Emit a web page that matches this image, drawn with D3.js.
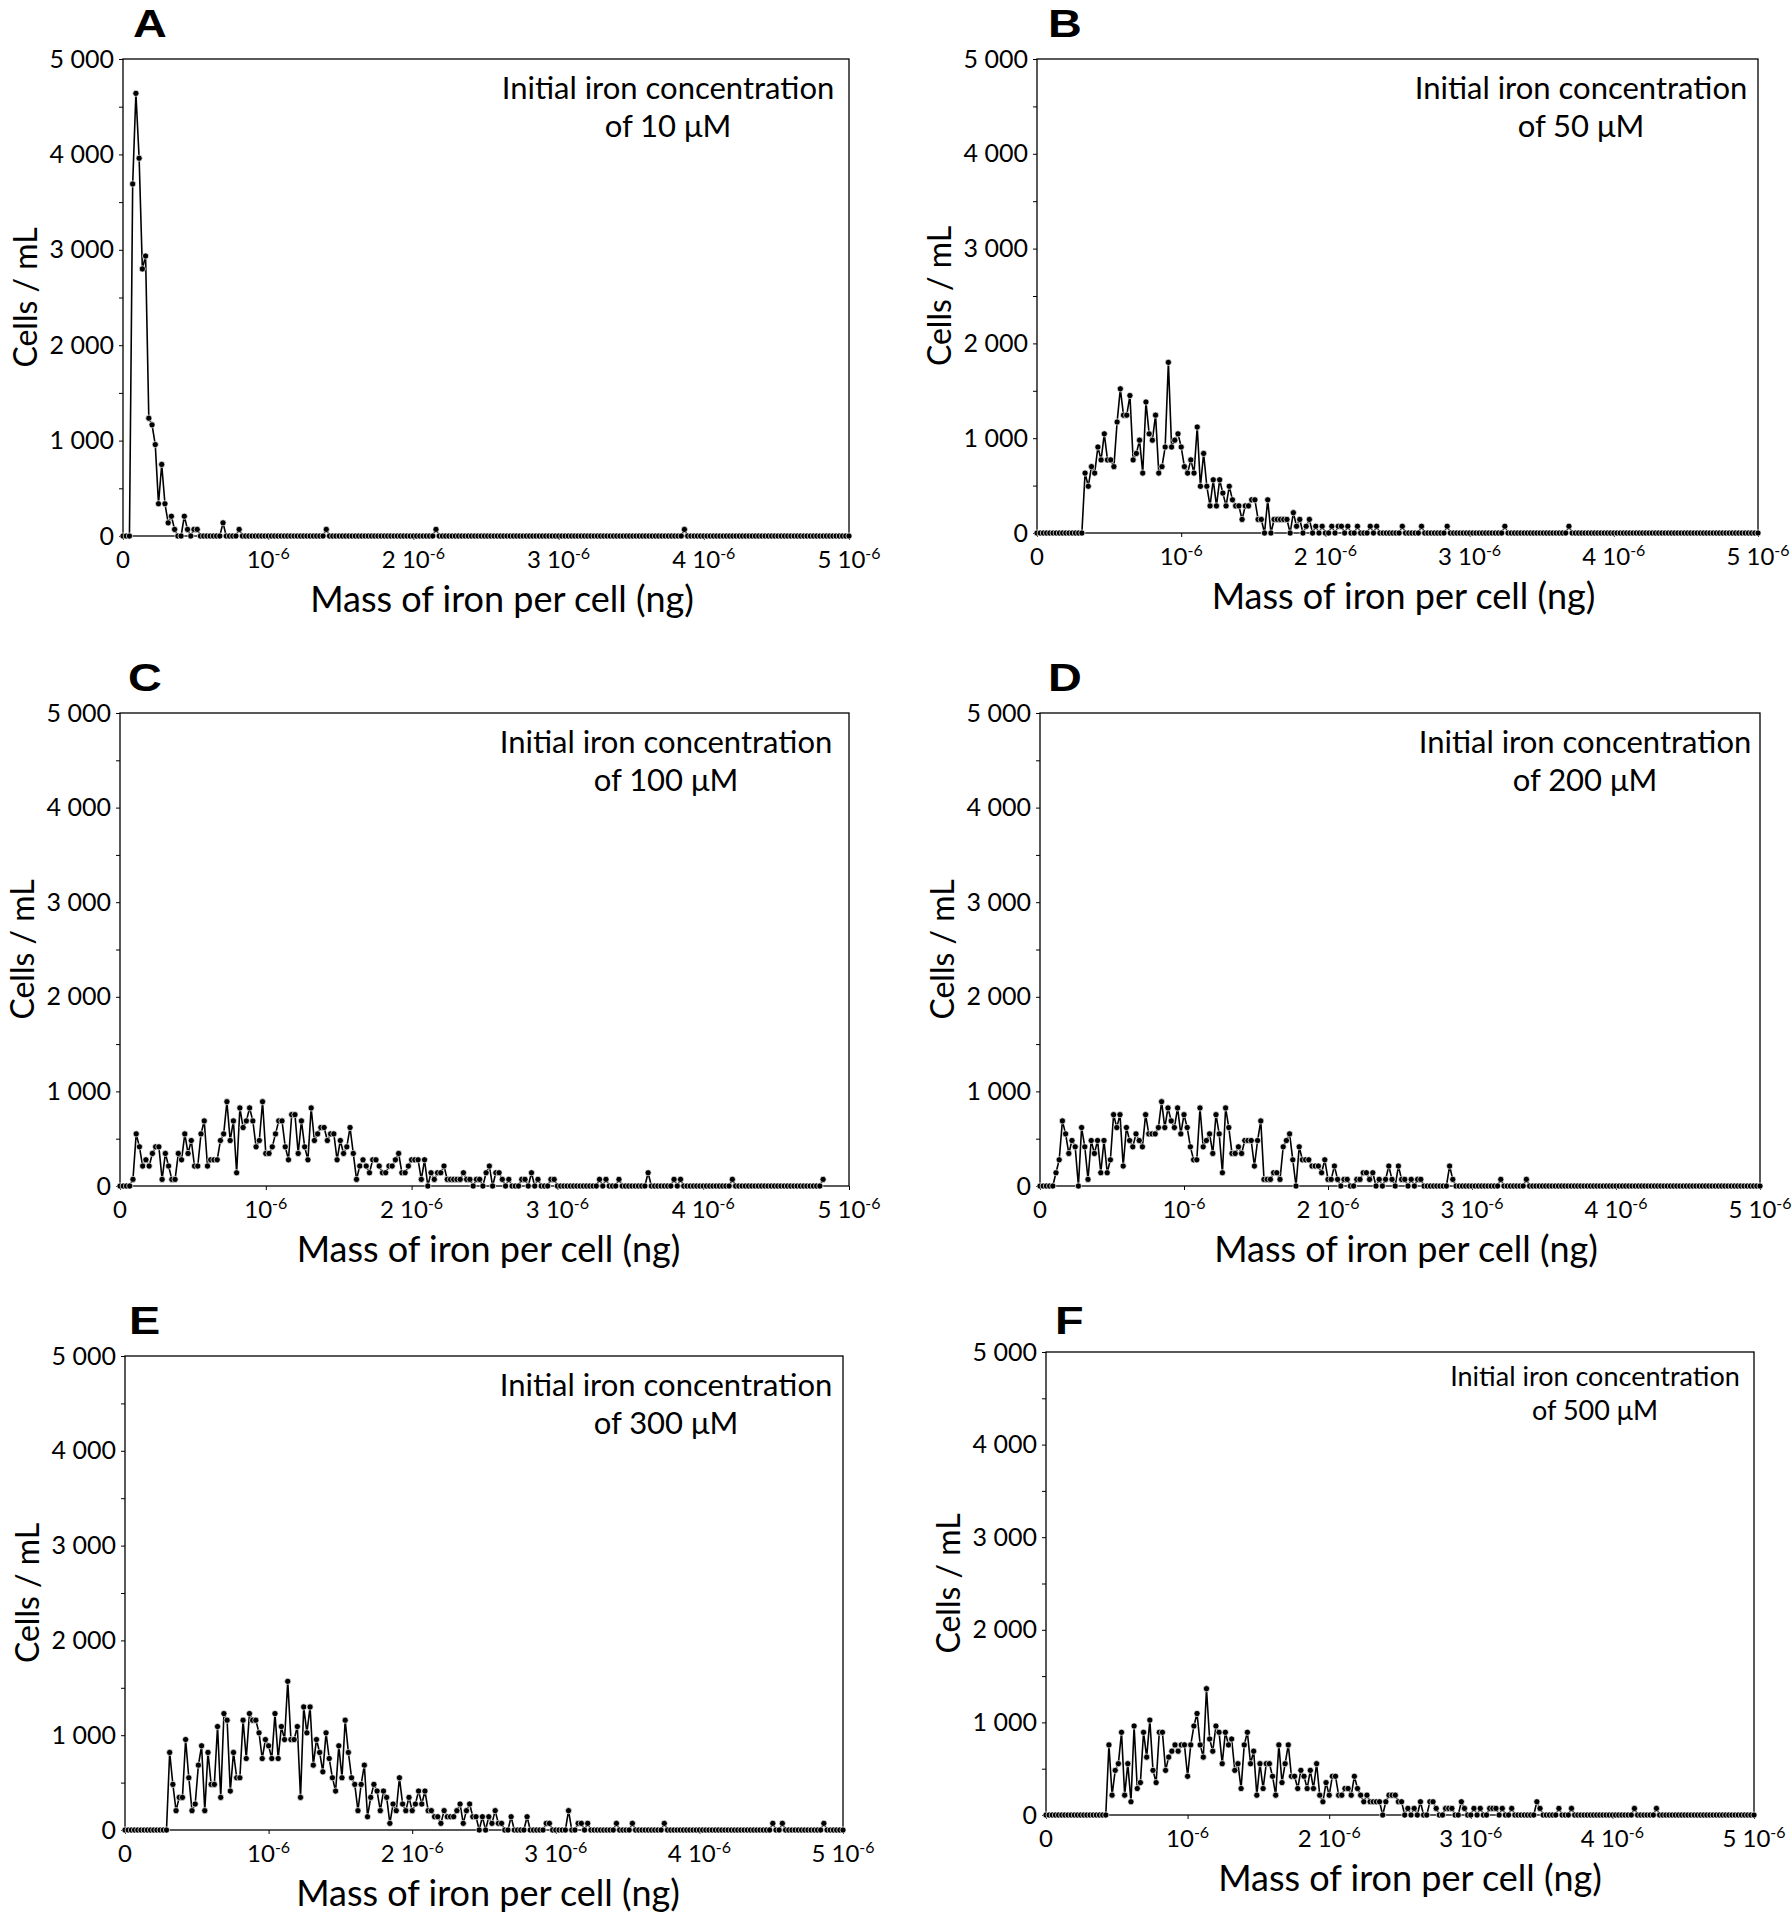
<!DOCTYPE html>
<html><head><meta charset="utf-8">
<script src="https://cdn.jsdelivr.net/npm/d3@7"></script>
<style>body{margin:0;background:#fff}</style>
</head><body>
<svg id="c" width="1792" height="1916" xmlns="http://www.w3.org/2000/svg"></svg>
<script>
// ---------- data ----------
const binWidth = 5e-6 / 225;          // histogram bin width (ng)
const xTicks = [0, 1e-6, 2e-6, 3e-6, 4e-6, 5e-6];
const xTickBase = ["0", "10", "2 10", "3 10", "4 10", "5 10"];
const xTickExp  = ["", "-6", "-6", "-6", "-6", "-6"];
const yTicks = [0, 1000, 2000, 3000, 4000, 5000];
const yTickLabels = ["0", "1 000", "2 000", "3 000", "4 000", "5 000"];
const panelLetters = ["A", "B", "C", "D", "E", "F"];
const concentrations = ["10", "50", "100", "200", "300", "500"];
const xAxisTitle = "Mass of iron per cell (ng)";
const yAxisTitle = "Cells / mL";

const valuesA = [
0,0,0,3690,4640,3960,2800,2935,1235,1165,
958,338,750,338,138,207,69,0,0,207,
69,0,69,69,0,0,0,0,0,0,
0,138,0,0,0,0,69,0,0,0,
0,0,0,0,0,0,0,0,0,0,
0,0,0,0,0,0,0,0,0,0,
0,0,0,69,0,0,0,0,0,0,
0,0,0,0,0,0,0,0,0,0,
0,0,0,0,0,0,0,0,0,0,
0,0,0,0,0,0,0,69,0,0,
0,0,0,0,0,0,0,0,0,0,
0,0,0,0,0,0,0,0,0,0,
0,0,0,0,0,0,0,0,0,0,
0,0,0,0,0,0,0,0,0,0,
0,0,0,0,0,0,0,0,0,0,
0,0,0,0,0,0,0,0,0,0,
0,0,0,0,0,0,0,0,0,0,
0,0,0,0,69,0,0,0,0,0,
0,0,0,0,0,0,0,0,0,0,
0,0,0,0,0,0,0,0,0,0,
0,0,0,0,0,0,0,0,0,0,
0,0,0,0,0,0,0,0,0,0,
0,0,0,0,0,0];

const valuesB = [
0,0,0,0,0,0,0,0,0,0,
0,0,0,0,0,632,493,700,632,907,
771,1046,771,771,700,1171,1521,1243,1243,1450,
771,839,979,632,1382,1046,979,1243,632,700,
907,1800,907,979,1046,907,700,632,771,632,
1118,493,839,493,286,561,286,561,421,286,
493,350,286,286,143,286,286,350,350,143,
143,0,350,0,143,143,143,143,143,0,
214,71,143,0,71,143,0,71,0,71,
0,0,71,0,71,71,0,71,0,0,
71,0,0,0,71,0,71,0,0,0,
0,0,0,0,71,0,0,0,0,0,
71,0,0,0,0,0,0,0,71,0,
0,0,0,0,0,0,0,0,0,0,
0,0,0,0,0,0,71,0,0,0,
0,0,0,0,0,0,0,0,0,0,
0,0,0,0,0,0,71,0,0,0,
0,0,0,0,0,0,0,0,0,0,
0,0,0,0,0,0,0,0,0,0,
0,0,0,0,0,0,0,0,0,0,
0,0,0,0,0,0,0,0,0,0,
0,0,0,0,0,0,0,0,0,0,
0,0,0,0,0,0];

const valuesC = [
0,0,0,0,70,551,414,211,277,211,
344,414,414,70,344,211,70,70,344,277,
551,344,481,211,211,551,688,211,277,277,
277,481,551,891,481,688,140,825,618,688,
825,688,414,481,891,344,344,414,551,688,
688,414,277,754,754,344,688,414,277,825,
481,551,618,618,481,551,551,277,481,344,
414,618,344,70,211,277,211,140,277,277,
211,140,140,211,211,277,344,140,140,211,
277,277,277,70,277,0,140,70,140,140,
211,70,70,70,70,70,140,70,70,0,
70,70,0,140,211,0,140,140,70,0,
70,0,0,0,70,70,0,140,0,70,
0,0,0,70,70,0,0,0,0,0,
0,0,0,0,0,0,0,0,70,0,
70,0,0,0,70,0,0,0,0,0,
0,0,0,140,0,0,0,0,0,0,
0,70,0,70,0,0,0,0,0,0,
0,0,0,0,0,0,0,0,0,70,
0,0,0,0,0,0,0,0,0,0,
0,0,0,0,0,0,0,0,0,0,
0,0,0,0,0,0,0,70];

const valuesD = [
0,0,0,0,0,140,277,688,551,344,
481,414,0,618,414,70,481,344,481,140,
481,140,277,754,618,754,211,618,481,414,
551,481,414,754,551,551,551,618,891,618,
825,688,618,825,551,754,618,414,277,277,
825,414,481,551,344,754,551,140,825,618,
344,344,414,344,481,481,481,211,481,688,
70,70,70,140,140,70,414,481,551,277,
0,414,277,277,277,211,211,211,140,277,
70,70,211,70,0,70,70,0,0,70,
70,140,140,70,140,0,70,0,70,211,
70,0,211,70,70,0,70,0,70,70,
0,0,0,0,0,0,0,0,211,70,
0,0,0,0,0,0,0,0,0,0,
0,0,0,0,70,0,0,0,0,0,
0,0,70,0,0,0,0,0,0,0,
0,0,0,0,0,0,0,0,0,0,
0,0,0,0,0,0,0,0,0,0,
0,0,0,0,0,0,0,0,0,0,
0,0,0,0,0,0,0,0,0,0,
0,0,0,0,0,0,0,0,0,0,
0,0,0,0,0,0,0,0,0,0,
0,0,0,0,0,0];

const valuesE = [
0,0,0,0,0,0,0,0,0,0,
0,0,0,0,818,481,204,344,344,954,
551,204,274,684,888,204,818,481,481,1091,
344,1228,1158,411,818,551,551,1158,754,1228,
1158,1158,1025,754,954,888,754,1228,754,1091,
954,1568,954,954,1091,344,1298,1025,1298,684,
954,818,614,1025,754,551,411,888,551,1158,
818,551,481,204,481,684,140,344,481,411,
204,411,344,70,274,204,551,274,204,344,
204,274,411,274,411,204,204,140,140,70,
204,140,140,140,204,274,70,204,274,140,
140,0,140,0,140,70,204,70,70,0,
0,140,0,0,0,0,140,0,0,0,
0,0,70,70,0,0,0,0,0,204,
0,0,70,70,0,70,0,0,0,0,
0,0,0,0,70,0,0,0,0,70,
0,0,0,0,0,0,0,0,0,70,
0,0,0,0,0,0,0,0,0,0,
0,0,0,0,0,0,0,0,0,0,
0,0,0,0,0,0,0,0,0,0,
0,0,0,70,0,0,70,0,0,0,
0,0,0,0,0,0,0,0,0,70,
0,0,0,0,0,0];

const valuesF = [
0,0,0,0,0,0,0,0,0,0,
0,0,0,0,0,0,0,0,0,0,
757,214,482,554,893,214,554,143,961,286,
350,893,625,1025,482,350,893,893,482,625,
689,757,689,757,757,418,757,961,1096,757,
625,1364,821,689,961,893,554,893,757,821,
482,554,286,757,893,554,689,214,554,286,
554,554,418,214,757,350,554,757,418,418,
286,482,418,286,482,286,554,214,143,350,
214,418,418,214,214,286,286,214,418,286,
214,143,214,143,143,143,143,0,143,214,
214,214,143,143,0,71,0,71,0,143,
0,0,143,143,71,0,0,71,71,71,
0,0,143,71,0,0,71,0,71,0,
0,71,71,71,0,71,0,0,71,0,
0,0,0,0,0,0,143,71,0,0,
0,0,0,71,0,0,0,71,0,0,
0,0,0,0,0,0,0,0,0,0,
0,0,0,0,0,0,0,71,0,0,
0,0,0,0,71,0,0,0,0,0,
0,0,0,0,0,0,0,0,0,0,
0,0,0,0,0,0,0,0,0,0,
0,0,0,0,0,0];

const seriesValues = [valuesA, valuesB, valuesC, valuesD, valuesE, valuesF];

// ---------- layout (positions only) ----------
const layout = [
  {x0:123,  x1:849,  y0:59,   y1:536,  titleDx:-181, titleSize:31,   t1:40, t2:78, xlabDx:16},
  {x0:1037, x1:1758, y0:59,   y1:533,  titleDx:-177, titleSize:31,   t1:40, t2:78, xlabDx:6},
  {x0:120,  x1:849,  y0:713,  y1:1186, titleDx:-183, titleSize:31,   t1:40, t2:78, xlabDx:4},
  {x0:1040, x1:1760, y0:713,  y1:1186, titleDx:-175, titleSize:31,   t1:40, t2:78, xlabDx:6},
  {x0:125,  x1:843,  y0:1356, y1:1830, titleDx:-177, titleSize:31,   t1:40, t2:78, xlabDx:4},
  {x0:1046, x1:1754, y0:1352, y1:1815, titleDx:-159, titleSize:27,   t1:34, t2:68, xlabDx:10}
];
const letterPos = [[133,37],[1048,37],[128,691],[1048,691],[129,1334],[1055,1334]];

const FONT = "Lato, 'Noto Sans', sans-serif";
const svg = d3.select("#c");

panelLetters.forEach((letter, k) => {
  const L = layout[k];
  const vals = seriesValues[k];
  const x = d3.scaleLinear().domain([0, 5e-6]).range([L.x0, L.x1]);
  const y = d3.scaleLinear().domain([0, 5000]).range([L.y1, L.y0]);
  const g = svg.append("g");

  // panel letter
  g.append("text").attr("transform", `translate(${letterPos[k][0]},${letterPos[k][1]}) scale(1.2,1)`)
    .attr("font-family", "'Liberation Sans', Arial, sans-serif").attr("font-weight", "bold")
    .attr("font-size", 39).text(letter);

  // y axis
  const yAx = g.append("g").attr("transform", `translate(${L.x0},0)`)
    .call(d3.axisLeft(y).tickValues(d3.range(0, 5001, 500)).tickSize(4).tickPadding(5)
      .tickFormat(d => d % 1000 === 0 ? yTickLabels[yTicks.indexOf(d)] : ""));
  yAx.select(".domain").remove();
  yAx.selectAll("line").attr("stroke", "#000").attr("stroke-width", 1);
  yAx.selectAll("text").attr("font-family", FONT).attr("font-size", 25).attr("fill", "#000");

  // x axis
  const xAx = g.append("g").attr("transform", `translate(0,${L.y1})`)
    .call(d3.axisBottom(x).tickValues(xTicks).tickSize(4).tickFormat(""));
  xAx.select(".domain").remove();
  xAx.selectAll("line").attr("stroke", "#000").attr("stroke-width", 1);
  xTicks.forEach((t, i) => {
    const tx = g.append("text").attr("x", x(t)).attr("y", L.y1 + 32)
      .attr("text-anchor", "middle").attr("font-family", FONT).attr("font-size", 24);
    tx.append("tspan").text(xTickBase[i]);
    if (xTickExp[i]) tx.append("tspan").attr("dy", -9).attr("font-size", 16).text(xTickExp[i]);
  });

  // frame
  g.append("rect").attr("x", L.x0).attr("y", L.y0)
    .attr("width", L.x1 - L.x0).attr("height", L.y1 - L.y0)
    .attr("fill", "none").attr("stroke", "#000").attr("stroke-width", 1.3);

  // axis titles
  g.append("text").attr("x", (L.x0 + L.x1) / 2 + L.xlabDx).attr("y", L.y1 + 76)
    .attr("text-anchor", "middle").attr("font-family", FONT).attr("font-size", 36).text(xAxisTitle);
  const ycx = L.x0 - 86, ycy = (L.y0 + L.y1) / 2;
  g.append("text").attr("transform", `translate(${ycx},${ycy}) rotate(-90)`)
    .attr("text-anchor", "middle").attr("font-family", FONT).attr("font-size", 32).text(yAxisTitle);

  // in-plot title
  const tcx = L.x1 + L.titleDx;
  g.append("text").attr("x", tcx).attr("y", L.y0 + L.t1).attr("text-anchor", "middle")
    .attr("font-family", FONT).attr("font-size", L.titleSize).text("Initial iron concentration");
  g.append("text").attr("x", tcx).attr("y", L.y0 + L.t2).attr("text-anchor", "middle")
    .attr("font-family", FONT).attr("font-size", L.titleSize).text(`of ${concentrations[k]} μM`);

  // data line + markers
  const line = d3.line().x((d, i) => x(i * binWidth)).y(d => y(d));
  g.append("path").datum(vals).attr("d", line)
    .attr("fill", "none").attr("stroke", "#000").attr("stroke-width", 1.6).attr("stroke-linejoin", "round");
  g.append("g").selectAll("circle").data(vals).join("circle")
    .attr("cx", (d, i) => x(i * binWidth)).attr("cy", d => y(d)).attr("r", 3.1)
    .attr("fill", "#000").attr("stroke", "#fff").attr("stroke-width", 0.7);
});
</script>
</body></html>
